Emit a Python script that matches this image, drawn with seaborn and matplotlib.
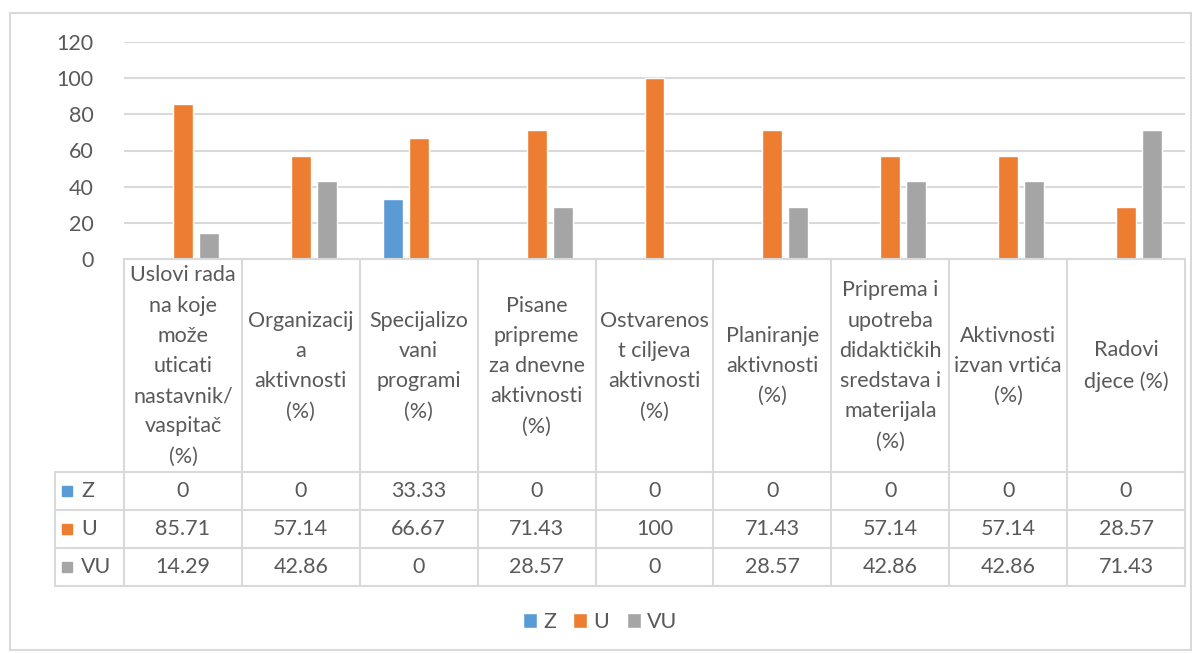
import numpy as np
import pandas as pd
import matplotlib
matplotlib.use("Agg")
import matplotlib.pyplot as plt
import seaborn as sns
from matplotlib.transforms import blended_transform_factory
from matplotlib.lines import Line2D
from matplotlib.patches import Rectangle

# podaci sa grafikona
kategorije = [
    "Uslovi rada\nna koje\nmože\nuticati\nnastavnik/\nvaspitač\n(%)",
    "Organizacij\na\naktivnosti\n(%)",
    "Specijalizo\nvani\nprogrami\n(%)",
    "Pisane\npripreme\nza dnevne\naktivnosti\n(%)",
    "Ostvarenos\nt ciljeva\naktivnosti\n(%)",
    "Planiranje\naktivnosti\n(%)",
    "Priprema i\nupotreba\ndidaktičkih\nsredstava i\nmaterijala\n(%)",
    "Aktivnosti\nizvan vrtića\n(%)",
    "Radovi\ndjece (%)",
]
serije = ["Z", "U", "VU"]
z_vals = [0, 0, 33.33, 0, 0, 0, 0, 0, 0]
u_vals = [85.71, 57.14, 66.67, 71.43, 100, 71.43, 57.14, 57.14, 28.57]
vu_vals = [14.29, 42.86, 0, 28.57, 0, 28.57, 42.86, 42.86, 71.43]
yticks = [0, 20, 40, 60, 80, 100, 120]

boje = {"Z": "#5b9bd5", "U": "#ed7d31", "VU": "#a5a5a5"}
SIVA_TEKST = "#595959"
SIVA_LINIJA = "#d9d9d9"

W, H = 1200, 653
sns.set_style("white")
plt.rcParams["font.family"] = ["Lato", "DejaVu Sans"]
FS = 15.5

df = pd.DataFrame({
    "kat": kategorije * 3,
    "serija": ["Z"] * 9 + ["U"] * 9 + ["VU"] * 9,
    "vrijednost": z_vals + u_vals + vu_vals,
})

fig = plt.figure(figsize=(W / 100, H / 100), dpi=100)

def fx(px):
    return px / W

def fy(py):
    return 1 - py / H

ax = fig.add_axes([fx(124), fy(259), fx(1185) - fx(124), fy(42) - fy(259)])
sns.barplot(data=df, x="kat", y="vrijednost", hue="serija", hue_order=serije,
            order=kategorije, palette=boje, width=0.66, gap=0.23,
            saturation=1, ax=ax)

ax.set_xlim(-0.5, len(kategorije) - 0.5)
ax.set_ylim(0, 120)
ax.set_yticks(yticks)
ax.set_yticklabels([str(t) for t in yticks], fontsize=FS, color=SIVA_TEKST)
ax.tick_params(axis="y", length=0, pad=22)
ax.set_xticks([])
ax.set_xlabel("")
ax.set_ylabel("")
ax.yaxis.grid(True, color=SIVA_LINIJA, lw=1.5)
ax.set_axisbelow(True)
for s in ["top", "right", "left"]:
    ax.spines[s].set_visible(False)
ax.spines["bottom"].set_color(SIVA_LINIJA)
ax.spines["bottom"].set_linewidth(1.5)

handles, labels = ax.get_legend_handles_labels()
ax.get_legend().remove()

# tabela podataka ispod grafikona
tr = blended_transform_factory(ax.transData, fig.transFigure)
n = len(kategorije)
kol = (1185 - 124) / n  # sirina kolone u px
lijevo = -0.5 - (124 - 55) / kol
redovi = [472, 510, 548, 586]

def linija(x0, x1, y0, y1):
    fig.add_artist(Line2D([x0, x1], [y0, y1], transform=tr,
                          color=SIVA_LINIJA, lw=1.5, clip_on=False))

for i in range(n + 1):
    linija(i - 0.5, i - 0.5, fy(259), fy(586))
linija(lijevo, lijevo, fy(472), fy(586))
for r in redovi:
    linija(lijevo, n - 0.5, fy(r), fy(r))

for i, k in enumerate(kategorije):
    fig.text(i, fy(366), k, transform=tr, ha="center", va="center",
             fontsize=FS, color=SIVA_TEKST, linespacing=1.64)

def fmt(v):
    return f"{v:g}"

for j, (s, vals) in enumerate(zip(serije, [z_vals, u_vals, vu_vals])):
    yc = fy((redovi[j] + redovi[j + 1]) / 2)
    sq = -0.5 - (124 - 62) / kol
    fig.add_artist(Rectangle((sq, yc - 5 / H), 10 / kol, 10 / H,
                             transform=tr, color=boje[s], clip_on=False))
    fig.text(sq + 19 / kol, yc, s, transform=tr, ha="left",
             va="center", fontsize=FS, color=SIVA_TEKST)
    for i, v in enumerate(vals):
        fig.text(i, yc, fmt(v), transform=tr, ha="center", va="center",
                 fontsize=FS, color=SIVA_TEKST)

fig.legend(handles, labels, loc="center", bbox_to_anchor=(0.5, fy(622)),
           ncol=3, frameon=False, fontsize=FS, labelcolor=SIVA_TEKST,
           handlelength=0.65, handleheight=0.65, handletextpad=0.3,
           columnspacing=0.8)

# okvir grafikona
fig.add_artist(Rectangle((fx(10), fy(650)), fx(1191) - fx(10), fy(13) - fy(650),
                         transform=fig.transFigure, fill=False,
                         edgecolor=SIVA_LINIJA, lw=1.5))

fig.savefig("out.png", dpi=100, facecolor="white")
